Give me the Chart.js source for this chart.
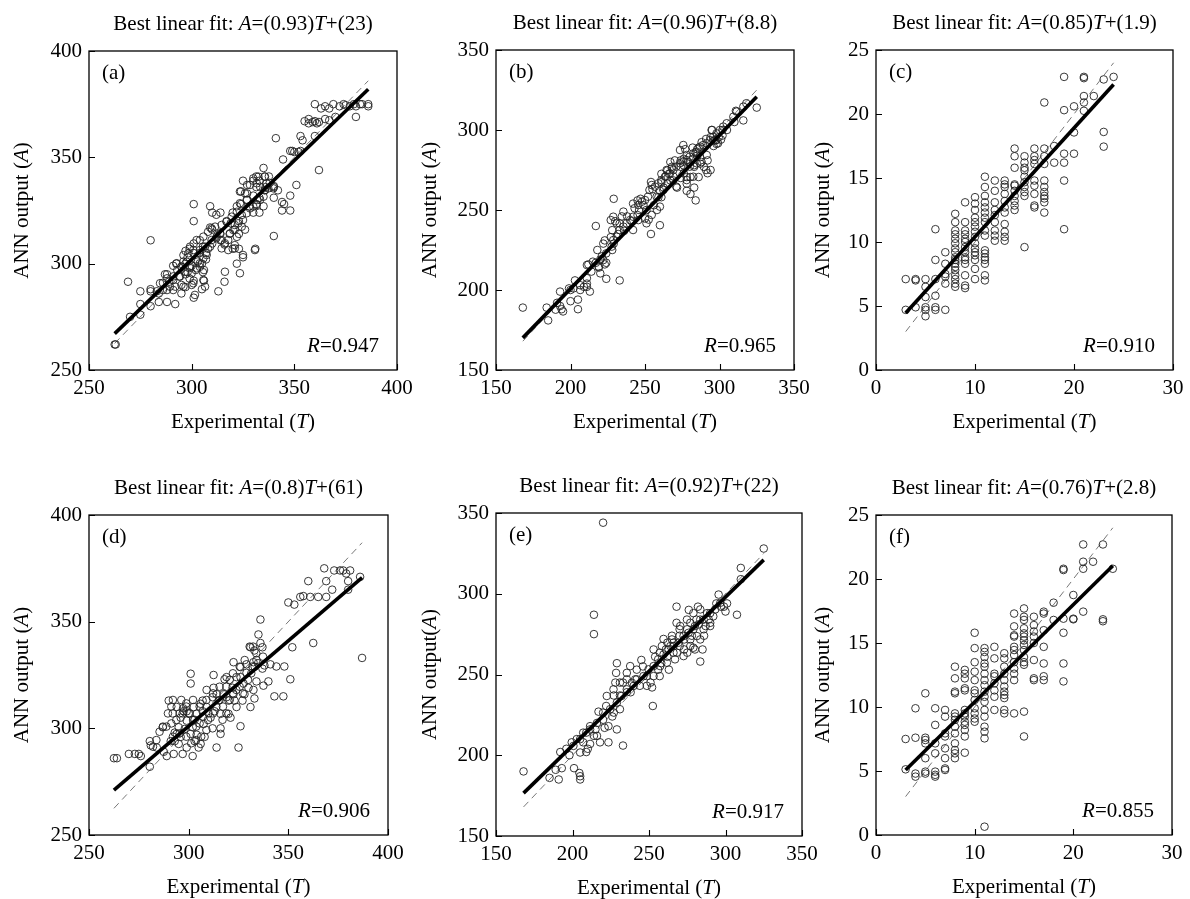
<!DOCTYPE html>
<html lang="en">
<head>
<meta charset="UTF-8">
<title>ANN output versus experimental values</title>
<script src="https://cdn.jsdelivr.net/npm/chart.js"></script>
<style>
  body { margin: 0; background: #fff; }
  #page { position: relative; width: 1190px; height: 899px; overflow: hidden; background: #fff; }
  #page canvas { position: absolute; }
</style>
</head>
<body>
<div id="page"></div>
<script>
// Fit parameters and correlation for panels (a)..(f)
const panelLetters = ['a', 'b', 'c', 'd', 'e', 'f'];
const fitSlope = [0.93, 0.96, 0.85, 0.8, 0.92, 0.76];
const fitIntercept = [23, 8.8, 1.9, 61, 22, 2.8];
const rValues = ['0.947', '0.965', '0.910', '0.906', '0.917', '0.855'];

// Axis ranges
const axisMin = [250, 150, 0, 250, 150, 0];
const xAxisMax = [400, 350, 30, 400, 350, 30];
const yAxisMax = [400, 350, 25, 400, 350, 25];
const xStep = [50, 50, 10, 50, 50, 10];
const yStep = [50, 50, 5, 50, 50, 5];
const yTitles = ['ANN output (', 'ANN output (', 'ANN output (', 'ANN output (', 'ANN output(', 'ANN output ('];

// (a) experimental T, ANN output A
const pointsA = [
  [360,375],[369,375],[374,375],[379,375],[383,375],[386,375],[386,374],[363,373],[367,373],[365,374],
  [380,369],[357,368],[355,367],[360,367],[361,366],[365,368],[360,360],[353,360],[350,352.5],[353,353],
  [341,359],[362,344],[351,337],[348,332],[344,329],[348,325],[344,325],[340,313],[331,307],[322,300],
  [313,287],[316,291.5],[305,288],[306,292],[301,284],[292,281],[288,282],[284,282],[275,281],[280,280],
  [269,291.5],[280,311],[301,328],[301,320],[287,295],[280,288],[275,287],[270,275],[263,262],[262.5,262],
  [275,276],[288,295],
  [292.5,300],[295,298.5],[297,300],[299,298],[297,295],[294,294],[298,303],[301,305],[302,302],[304,298.5],
  [306,297],[307,302],[304,305],[305.5,308],[308,307],[310,309.5],[312,312],[314,314],[310,316],[309,317],
  [304,311],[301,309.5],[299,307],[296,304],[297,306],[301,292],[305.5,296],[291,294],[289,291.5],[286,291],
  [288,287.6],[284,286],[283,287],[280,287],[291,287.6],[295,286],[297,289],
  [309,327],[310,324],[312,323],[314,324],[317,320],[319,319],[321,316],[318.5,314],[322,312.6],[320,307],
  [323,307],[325,303],[321,308.7],[316,309],[314,311],[323,314],[326,316],[323,320],[320,324],[322,327],
  [324,328],[327,330],[327,333],[330,332],[324,334],[327,337],[325,339],[331.5,336],[333,331],[331.5,328],
  [328,327],[330,324],[333,324],[335,327],[332,330],[335.5,334.5],[336,336],[338,338],[335,345],[335.5,341],
  [331.5,341],[330,339],[333,339],[340,336],[337.6,341],[340,336.5],[342,334.5],[345,328],[340,331],
  [344.5,349],[348,353],[349,353],[352,352.5],[354,358],[357,366],[359,366.6],[362,366.6],[367,367.4],[370,369],
  [372,374],[375,374.5],[377,374],[380,374],[382,375],
  [298,296],[300,299],[302,297],[303,301],[296,301],[299,293],[300,290],[305,300],[307,305],[295,290],
  [293,297],[291,299],
  [292.7,300.2],[295,298.6],[297.6,300.9],[299.2,298.6],[296.8,296.2],[300,295.5],[302.4,297.8],[304,300.2],
  [305.7,302.5],[307.3,304.1],[304,306.4],[306.5,308],[309,308],[309.7,311.1],[312.2,312.7],[313.8,314.3],
  [314.6,311.1],[316.2,309.6],[317.8,311.1],[318.7,314.3],[320.3,315.8],[321,318.2],[322.7,319],[324.4,317.4],
  [325,320.5],[324.4,322.9],[326.8,323.7],[328.4,326],[330,326.8],[331.7,327.6],[333.3,330],[335,331.5],
  [335.7,334.6],[333.3,336.2],[331.7,337.8],[330,340.1],[332.5,340.9],[335.7,340.9],[336.5,337.8],[337.3,335.4],
  [339.8,335.4],[326,333.1],[323.5,333.9],[328.4,337],[326.8,330],[323.5,328.4],[322,324.4],[319.5,322.1],
  [317,319.7],[314.6,318.2],[311.4,317.4],[309.7,316.6],[308,315],[305.7,312.7],[302.4,311.1],[300.8,306.4],
  [299.2,308],[298.4,304.9],[294.3,293.9],[291,292.3],[289.4,289.2],[286,287.6],[284.6,290.8],[288,293.1],
  [292,289.2],[296,289.2],[300.8,290.8],[305.7,292.3],[306.5,289.2],[301.6,285.3],[316.2,296.2],[323.5,295.5],
  [325,304.1],[330.8,306.4],[321,307.2],[314.6,307.2],[317.8,306.4]
];

// (b)
const pointsB = [
  [168,189],[184,189],[185,181],[191,192],[194,188],[193,199],[200,193],[205,194],[205,188],[199,201],
  [203,206],[206.5,203],[211,204],[213,199],[211,207.4],[212,216],[217,217],[219,214],[224,207],[220,219],
  [218,225],[221,221],[223,216],[224,217],[217,240],[229,257],[233,206],[222,229],[223,231],[227,233],
  [228,225],[229,229],[228,237.4],[227,243.7],[230,243],[233,241.6],[234.5,246],[238,246],[241,243],[236,237],
  [232,235],[242,254],[245,256],[247,257],[246,250],[249,253],[251,250],[252.5,244],[250,244.7],[245,246.8],
  [254,235],[256,253],[258,250],[259,258],[254,267.5],[255,263],[260,262],[260,240.5],[261,258],[262.5,264],
  [264,271],[265,266.5],[265,274.7],[268,276],[269,271],[267,268.5],[271.5,264],[274,270],[276,273],[278,262],
  [280.5,260],[283,264],[284,256],[276,277.9],[279,280],[282,282],[274,281],[277,288],[284,286],[282,289],
  [285,284],[287,283],[288,280],[288,292.4],[289.5,277],[291,275],[292,273],[294,275],[296,290],[294,295.5],
  [295,300],[297,293.4],[301,294],[302,300],[305,300],[310,305],[311,312],[316,306],[325,314],[292,281],
  [286,270.6],[287,279],[270,281],[267,280],[285,288],[274,277],[283,278],[276,282],[278,270.6],[269,268.5],
  [278,266.5],[280.5,270.6],[283,277],[261,272.6],[266,272.6],[268,277],[261,267.5],[286,289],[291,294.4],
  [296,293.4],[299.5,295.5],[298,291.3],[302,296.5],[193,190],[195,186.6],[190,187.7],[200,200],[202,201],
  [206.5,200],[209,202],[211,202],
  [211,215.6],[215,217.7],[219,214.6],[222,218.7],[224,222.9],[227.6,227.1],[228.7,231.2],[231,233.3],
  [233,237.5],[235.5,239.6],[237.7,241.7],[240,243.7],[242,245.8],[243,251.1],[245.5,253.1],[248,255.2],
  [250,256.2],[252,258.3],[253,262.5],[254.5,265.6],[256.7,264.6],[259,266.7],[261,268.7],[263.4,270.8],
  [264.5,275],[266.8,272.9],[269,275],[271,277.1],[273.5,279.2],[275.7,280.2],[278,281.2],[280,283.3],
  [282.4,285.4],[284.7,286.5],[287,289.6],[289,290.6],[291.4,291.7],[293.6,293.7],[295.8,295.8],[298,297.9],
  [300.3,300],[302.5,302.1],[304.8,304.2],[309.3,308.3],[311.5,311.5],[316,314.6],[318,316.7],[257.8,258.3],
  [260,252.1],[254.5,246.9],[251,241.7],[245.5,243.7],[242,237.5],[231,241.7],[228.7,245.8],[235.5,249],
  [262.3,262.5],[271,264.6],[278,268.7],[282.4,270.8],[280,277.1],[284.7,279.2],[273.5,287.5],[275.7,290.6],
  [278,284.4],[291.4,284.4],[294.7,300],[298,293.7],[299,291.7],[220,210.4],[214,211.5]
];

// (c) and (f): experimental values come in whole numbers
const expLevels = [3, 4, 5, 6, 7, 8, 9, 10, 11, 12, 13, 14, 15, 16, 17, 18, 19, 20, 21, 22, 23, 24];
const annC = [
  [7.1, 4.7],
  [7.1, 7.0, 4.9],
  [7.1, 6.5, 5.7, 4.9, 4.7, 4.2],
  [11.0, 8.6, 7.1, 5.8, 4.9, 4.7],
  [9.2, 8.3, 7.5, 7.3, 6.75, 4.7],
  [12.2, 11.55, 10.9, 10.6, 10.25, 9.9, 9.5, 9.2, 8.8, 8.6, 8.3, 8.05, 7.8, 7.4, 7.1, 6.75, 6.5],
  [13.1, 11.55, 10.9, 10.6, 10.25, 10.0, 9.6, 9.2, 8.8, 8.6, 8.3, 7.4, 6.6, 6.4],
  [13.5, 13.0, 12.5, 11.9, 11.55, 11.2, 10.8, 10.4, 9.9, 9.5, 9.2, 8.96, 8.6, 7.9, 7.1],
  [15.1, 14.3, 13.6, 13.1, 12.7, 12.3, 11.9, 11.55, 10.9, 10.5, 9.35, 9.1, 8.8, 8.6, 8.3, 7.4, 7.0],
  [14.8, 14.0, 13.1, 12.5, 12.1, 11.55, 10.9, 10.5, 10.1],
  [14.8, 14.5, 14.3, 13.76, 13.2, 12.7, 12.3, 11.4, 10.8, 10.4, 10.1],
  [17.3, 16.7, 15.8, 14.5, 14.4, 14.0, 13.6, 13.2, 12.85, 12.5],
  [16.7, 16.2, 15.8, 15.6, 15.1, 14.67, 14.3, 13.9, 13.6, 9.6],
  [17.3, 16.7, 16.4, 16.1, 14.8, 14.4, 13.76, 12.85, 12.7],
  [20.9, 17.3, 16.7, 16.1, 14.8, 14.3, 13.9, 13.6, 13.4, 13.1, 12.3],
  [17.5, 16.2],
  [22.9, 20.3, 16.9, 16.2, 14.8, 11.0],
  [20.6, 18.56, 16.9],
  [22.9, 22.8, 21.4, 20.9, 20.25],
  [21.4],
  [22.7, 18.6, 17.45],
  [22.9]
];

// (d)
const pointsD = [
  [262.5,286],[264,286],[270,288],[273,288],[275,288],[276,287],[280.5,294],[281,292],[280.5,282],[284,291],
  [287,300.5],[287.5,289],[289,287],[290,313],[292,307],[292.5,288],[293,298],[294,310],[295,300.5],[296,296],
  [297,307],[297.5,308],[297,288],[299,308],[300,307],[301,325.6],[301,321],[302,300.5],[302,287],[302.5,310],
  [303,304],[304,297],[305,291],[306,311.5],[307,313],[307.5,302],[308,296],[309,318],[310,307],[311,305],
  [312,300],[312.5,325],[312.5,319],[313,308],[314,291],[315,313],[316,300],[316,297.4],[317,304],[318,323],
  [319,324],[320,313],[321,305],[322,319],[322.5,331],[323,313],[324,310],[325,291],[326,301],[326,324],
  [327,313],[327.5,321],[328,316],[329,330],[329,326],[330,319],[331,310],[332,329],[332.5,318],[333,314],
  [334,322],[335,344],[336,351],[336,340],[337,328],[337,338],[337.5,320],[338,329.5],[340,322],[341,330],
  [343,315],[344,329],[347.5,315],[348,329],[351,323],[352,338],[350,359],[353,358],[356,361.6],[357.5,362],
  [360,369],[361,361.6],[362.5,340],[365,361.6],[369,369],[369,361.6],[368,375],[372,365],[373,374],[376,374],
  [377.5,374],[379,372.6],[381,374],[380,369],[380,365],[386,371],[387,333],
  [319,314.6],[322.5,316],[320,306.8],[316,306.8],[307,308],[309,310],[296,305],[299,303.6],[298,299.7],
  [294,297.4],[295,292.7],[293,294],[291,294],[303,294],[306,292.7],[299,291],[301,297.4],[304,306.8],
  [312,314.6],[314,316],[317.5,316],[324,324],[326,328.7],[332.5,331],[331,338],[333,336.5],[334,332],
  [288.8,300.8],[291.3,302.3],[293.8,303.9],[295.5,307],[297.2,309.4],[298.8,310.2],[300.5,307],[302.2,303.9],
  [303.8,300.8],[305.5,302.3],[307.2,305.5],[292.1,296.1],[295.5,297.7],[298.8,296.1],[301.3,293],[303.8,294.5],
  [306.3,296.1],[308.9,299.2],[309.7,303.9],[312.2,307],[313.9,310.2],[315.5,313.3],[317.2,310.2],[318.9,307],
  [320.6,313.3],[322.2,316.4],[323.9,318],[325.6,319.5],[327.2,316.4],[329.8,322.7],[331.4,325.8],[333.1,328.9],
  [334.8,330.5],[337.3,333.6],[333.9,335.2],[332.3,338.3],[330.6,338.3],[328.1,332],[325.6,328.9],[322.2,325.8],
  [320.6,322.7],[318.9,319.5],[315.5,319.5],[312.2,316.4],[308.9,313.3],[305.5,310.2],[302.2,313.3],[298.8,311.7],
  [296.3,313.3],[292.1,313.3],[291.3,310.2],[289.6,307],[287.1,300.8],[285.4,298.4],[283.8,294.5],[282.1,291.4]
];

// (e)
const pointsE = [
  [168,190],[185,186],[191,185],[189,191],[193,192],[192,202],[198,200],[201,192],[204.5,189],[205,187],
  [205,185],[205,201.7],[209,202],[210,204],[211.5,207],[207,208],[214,212],[215,216],[217,227],[218,208],
  [223.5,208],[229,216],[233,206],[220,344],[214,287],[214,275],[222,230.5],[220,222],[226,224],[227,237],
  [228,245],[228.5,251],[229,257],[231,237],[233,245],[235.5,251],[238,239],[240,243],[242,253],[245,259],
  [246,255],[248.6,249],[251,245],[252,242],[252.5,230.5],[253,265.5],[254,261],[256,253],[257,249],[258,257],
  [261,265.5],[262,261],[263,253],[264,267.6],[265,274],[266,263.5],[267,259.4],[268,292],[268,282],[270,267.6],
  [273,265.5],[275,278],[276,290],[277,282],[278,274],[279,266.6],[281,284],[282,292],[283.5,258],[285,265.5],
  [286,274],[287,280],[288,288],[289,284],[290,280],[292,286],[294,294],[295.5,299.5],[297,292],[299,292],
  [300,289],[301,294],[307.5,287],[310,316],[310,309],[325,328],
  [259.5,272],[262,269.7],[266,269.7],[270,274],[257,263.5],[273,271.7],[275,263.5],[277,267.6],[280,265.5],
  [283.5,271.7],[280,280],[283.5,284],[270,278],[241,247],[235.5,239],[231,228.5],[227,226.4],[223.5,218],
  [221,217],[216,212],[211.5,218],[209,214],[205,210],[199.5,208],
  [196,204],[200.6,205.8],[202.8,210],[207,214],[211.5,216],[216,220],[220,226.4],[224.6,228.5],[229,232.6],
  [232,236.7],[235.5,240.8],[238.8,244.9],[242,247],[246.4,249],[249.7,253.2],[253,255.2],[256,259.4],
  [259.5,262.4],[262.8,265.5],[266,267.6],[269.3,269.7],[272.6,273.8],[275.8,275.8],[279,278],[282.4,281],
  [285.7,284],[290,288],[293.3,290.3],[296.6,294.4],[244,243],[248.6,243],[253,249],[257.3,255.2],[261.7,257.3],
  [268.2,263.5],[272.6,261.4],[277,271.7],[281.3,273.8],[285.7,278],[290,282],[258.4,267.6],[265,271.7],
  [270.4,280],[274.8,284],[279,288],[283.5,290.3],[222.4,236.7],[226.8,240.8],[231,245],[235.5,247],[237.7,255.2]
];

// (f)
const annF = [
  [7.5, 5.13],
  [9.9, 7.6, 4.8, 4.56],
  [11.07, 7.6, 7.42, 7.16, 6.0, 4.95, 4.8],
  [9.9, 8.6, 7.16, 6.38, 4.95, 4.7, 4.56],
  [9.77, 9.25, 7.94, 7.7, 6.77, 6.0, 5.2, 5.08],
  [13.15, 12.24, 11.2, 11.07, 9.5, 9.25, 9.0, 8.46, 7.94, 7.16, 6.64, 6.38, 6.0],
  [12.9, 12.6, 12.24, 11.46, 11.3, 9.77, 9.5, 9.25, 8.85, 8.6, 8.2, 7.7, 6.43],
  [15.8, 14.6, 13.5, 12.76, 12.1, 11.3, 11.07, 10.55, 9.9, 9.5, 9.1, 8.85],
  [14.6, 14.3, 13.9, 13.4, 13.15, 12.6, 12.1, 11.7, 11.2, 10.8, 10.4, 9.77, 9.25, 8.46, 8.07, 7.55, 0.65],
  [14.7, 13.8, 12.6, 12.4, 11.85, 11.3, 10.8, 9.77],
  [14.2, 13.8, 13.15, 12.6, 12.1, 11.6, 11.2, 10.94, 10.7, 9.77, 9.5],
  [17.3, 16.3, 15.6, 15.5, 14.7, 14.45, 14.06, 13.5, 13.0, 12.6, 12.1, 9.5],
  [17.7, 17.05, 16.8, 16.15, 15.75, 15.5, 15.2, 14.85, 14.45, 13.9, 13.5, 13.3, 9.64, 7.7],
  [17.05, 16.4, 15.9, 15.5, 15.0, 13.67, 12.24, 12.1],
  [17.45, 17.3, 16.0, 14.7, 13.4, 12.4, 12.1],
  [18.15, 16.8],
  [20.8, 20.7, 16.9, 15.8, 13.4, 12.0],
  [18.75, 16.9, 16.85],
  [22.7, 21.35, 20.8, 17.45],
  [21.35],
  [22.7, 16.85, 16.7],
  [20.8]
];

// Plot-area boxes on the page: left, top, right, bottom
const plotBoxes = [
  [89, 51, 397, 370],
  [496, 50, 794, 370],
  [876, 50, 1173, 370],
  [89, 515, 388, 835],
  [496, 513, 802, 836],
  [876, 515, 1172, 835]
];
const yTitleGap = [67, 66, 53, 67, 66, 53];

const SERIF = "'Liberation Serif', 'Times New Roman', Times, serif";
const PAD_L = 89, PAD_T = 51, PAD_R = 22, PAD_B = 70;

function font(size, italic) {
  return (italic ? 'italic ' : '') + size + 'px ' + SERIF;
}

// draws a run of [text, italic] pieces
function richText(ctx, parts, x, y, align, size) {
  let w = 0;
  parts.forEach(p => { ctx.font = font(size, p[1]); w += ctx.measureText(p[0]).width; });
  let cx = align === 'center' ? x - w / 2 : align === 'right' ? x - w : x;
  ctx.textAlign = 'left';
  ctx.textBaseline = 'middle';
  parts.forEach(p => {
    ctx.font = font(size, p[1]);
    ctx.fillText(p[0], cx, y);
    cx += ctx.measureText(p[0]).width;
  });
}

function pairsToPoints(pairs) {
  return pairs.map(p => ({ x: p[0], y: p[1] }));
}

function columnsToPoints(levels, cols) {
  const out = [];
  levels.forEach((t, i) => cols[i].forEach(a => out.push({ x: t, y: a })));
  return out;
}

const panelPoints = [
  pairsToPoints(pointsA),
  pairsToPoints(pointsB),
  columnsToPoints(expLevels, annC),
  pairsToPoints(pointsD),
  pairsToPoints(pointsE),
  columnsToPoints(expLevels, annF)
];

const page = document.getElementById('page');

panelLetters.forEach((letter, i) => {
  const [left, top, right, bottom] = plotBoxes[i];
  const canvas = document.createElement('canvas');
  canvas.width = right - left + PAD_L + PAD_R;
  canvas.height = bottom - top + PAD_T + PAD_B;
  canvas.style.left = (left - PAD_L) + 'px';
  canvas.style.top = (top - PAD_T) + 'px';
  page.appendChild(canvas);

  const pts = panelPoints[i];
  const xs = pts.map(p => p.x);
  const tMin = Math.min(...xs), tMax = Math.max(...xs);
  const fitLine = [tMin, tMax].map(t => ({ x: t, y: fitSlope[i] * t + fitIntercept[i] }));
  const idealLine = [tMin, tMax].map(t => ({ x: t, y: t }));

  const decorations = {
    id: 'decorations',
    afterDraw(chart) {
      const ctx = chart.ctx;
      const a = chart.chartArea;
      const xs = chart.scales.x, ys = chart.scales.y;
      ctx.save();
      ctx.strokeStyle = '#000';
      ctx.lineWidth = 1.3;
      ctx.strokeRect(a.left, a.top, a.right - a.left, a.bottom - a.top);
      // inward tick marks, left and bottom only
      ctx.lineWidth = 1.1;
      ctx.beginPath();
      xs.ticks.forEach(t => {
        const px = Math.round(xs.getPixelForValue(t.value)) + 0.5;
        ctx.moveTo(px, a.bottom);
        ctx.lineTo(px, a.bottom - 6);
      });
      ys.ticks.forEach(t => {
        const py = Math.round(ys.getPixelForValue(t.value)) + 0.5;
        ctx.moveTo(a.left, py);
        ctx.lineTo(a.left + 6, py);
      });
      ctx.stroke();

      ctx.fillStyle = '#000';
      const cx = (a.left + a.right) / 2;
      const cy = (a.top + a.bottom) / 2;
      richText(ctx, [['Best linear fit: ', false], ['A', true], ['=(' + fitSlope[i] + ')', false],
        ['T', true], ['+(' + fitIntercept[i] + ')', false]], cx, a.top - 27, 'center', 21);
      richText(ctx, [['Experimental (', false], ['T', true], [')', false]], cx, a.bottom + 52, 'center', 21);
      richText(ctx, [['(' + letter + ')', false]], a.left + 13, a.top + 22, 'left', 21);
      richText(ctx, [['R', true], ['=' + rValues[i], false]], a.right - 18, a.bottom - 24, 'right', 21);

      ctx.translate(a.left - yTitleGap[i], cy);
      ctx.rotate(-Math.PI / 2);
      richText(ctx, [[yTitles[i], false], ['A', true], [')', false]], 0, 0, 'center', 21);
      ctx.restore();
    }
  };

  new Chart(canvas, {
    type: 'scatter',
    data: {
      datasets: [
        {
          data: idealLine,
          showLine: true,
          borderColor: '#555',
          borderWidth: 0.8,
          borderDash: [7, 5],
          pointRadius: 0,
          order: 2
        },
        {
          data: pts,
          pointStyle: 'circle',
          pointRadius: 3.8,
          borderColor: '#222',
          borderWidth: 0.9,
          backgroundColor: 'rgba(0,0,0,0)',
          order: 1
        },
        {
          data: fitLine,
          showLine: true,
          borderColor: '#000',
          borderWidth: 3.6,
          pointRadius: 0,
          order: 0
        }
      ]
    },
    options: {
      responsive: false,
      animation: false,
      events: [],
      layout: { padding: { top: PAD_T, right: PAD_R, left: 0, bottom: 0 }, autoPadding: false },
      plugins: { legend: { display: false }, tooltip: { enabled: false } },
      scales: {
        x: {
          type: 'linear',
          min: axisMin[i],
          max: xAxisMax[i],
          ticks: { stepSize: xStep[i], padding: 6, maxRotation: 0, color: '#000', font: { family: SERIF, size: 21 } },
          grid: { display: false, drawTicks: false },
          border: { display: false },
          afterFit: s => { s.height = PAD_B; }
        },
        y: {
          type: 'linear',
          min: axisMin[i],
          max: yAxisMax[i],
          ticks: { stepSize: yStep[i], padding: 7, color: '#000', font: { family: SERIF, size: 21 } },
          grid: { display: false, drawTicks: false },
          border: { display: false },
          afterFit: s => { s.width = PAD_L; }
        }
      }
    },
    plugins: [decorations]
  });
});
</script>
</body>
</html>
